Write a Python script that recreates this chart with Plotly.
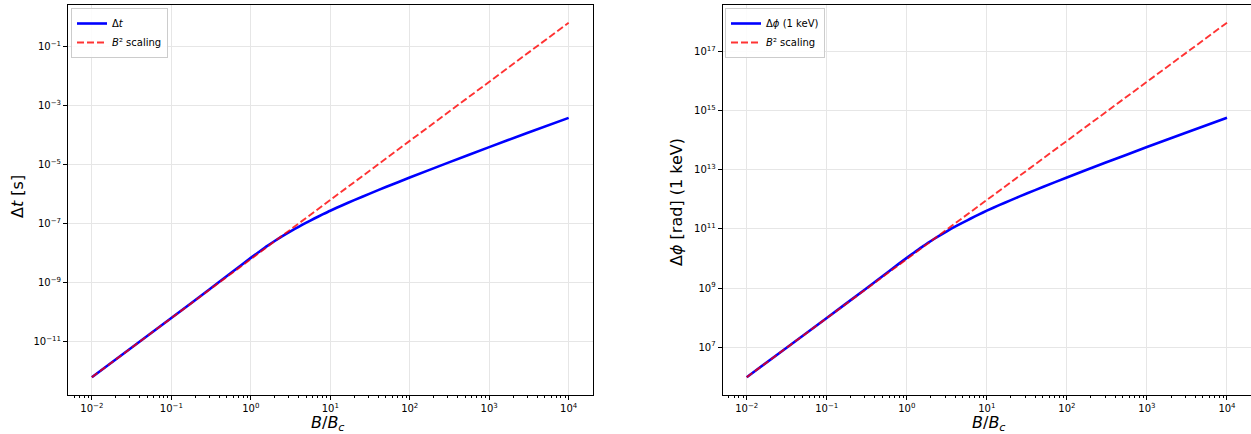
import plotly.graph_objects as go

# Field strength in units of the critical field
B_ratio = [0.01, 0.03, 0.1, 0.3, 0.6, 1, 1.25, 1.6, 2, 2.5, 3.2, 4, 5, 6.3, 8,
           10, 14, 20, 32, 50, 100, 300, 1000, 3000, 10000]

# Time delay [s]
delta_t = [6.31e-13, 5.68e-12, 6.38e-11, 5.89e-10, 2.45e-9, 6.92e-9, 1.07e-8,
           1.73e-8, 2.58e-8, 3.78e-8, 5.60e-8, 7.82e-8, 1.08e-7, 1.49e-7, 2.05e-7,
           2.74e-7, 4.12e-7, 6.25e-7, 1.06e-6, 1.73e-6, 3.63e-6, 1.14e-5, 3.89e-5,
           1.17e-4, 3.80e-4]

# Phase shift at 1 keV [rad]
delta_phi = [9.58e5, 8.63e6, 9.69e7, 8.95e8, 3.72e9, 1.05e10, 1.63e10, 2.63e10,
             3.92e10, 5.74e10, 8.51e10, 1.19e11, 1.64e11, 2.26e11, 3.11e11,
             4.16e11, 6.26e11, 9.49e11, 1.61e12, 2.63e12, 5.51e12, 1.73e13,
             5.91e13, 1.78e14, 5.77e14]

# Pure B^2 reference lines
B_ref = [0.01, 0.1, 1, 10, 100, 1000, 10000]
dt_B2 = [6.31e-13, 6.31e-11, 6.31e-9, 6.31e-7, 6.31e-5, 6.31e-3, 6.31e-1]
dphi_B2 = [9.58e5, 9.58e7, 9.58e9, 9.58e11, 9.58e13, 9.58e15, 9.58e17]

# Tick labels
x_exps = [-2, -1, 0, 1, 2, 3, 4]
y1_exps = [-11, -9, -7, -5, -3, -1]
y2_exps = [7, 9, 11, 13, 15, 17]


def sup(e):
    return "10<sup>" + str(e).replace("-", "\u2212") + "</sup>"


W, H = 1251, 434
FONT = "DejaVu Sans"
BLUE = "#0000ff"
RED = "rgba(255,0,0,0.8)"
GRID = "#e6e6e6"

minor_x = [m * 10.0 ** d for d in range(-3, 5) for m in range(2, 10)]

fig = go.Figure()

blue_line = dict(color=BLUE, width=2.6, shape="spline", smoothing=0.5)
red_line = dict(color=RED, width=1.9, dash="7px,3px")

fig.add_trace(go.Scatter(x=B_ratio, y=delta_t, mode="lines", name="\u0394<i>t</i>",
                         line=blue_line, xaxis="x", yaxis="y", legend="legend"))
fig.add_trace(go.Scatter(x=B_ref, y=dt_B2, mode="lines", name="<i>B</i>\u00b2 scaling",
                         line=red_line, xaxis="x", yaxis="y", legend="legend"))
fig.add_trace(go.Scatter(x=B_ratio, y=delta_phi, mode="lines", name="\u0394<i>\u03d5</i> (1 keV)",
                         line=blue_line, xaxis="x2", yaxis="y2", legend="legend2"))
fig.add_trace(go.Scatter(x=B_ref, y=dphi_B2, mode="lines", name="<i>B</i>\u00b2 scaling",
                         line=red_line, xaxis="x2", yaxis="y2", legend="legend2"))

ydom = [39 / H, 429 / H]
xdom1 = [68 / W, 592.5 / W]
xdom2 = [722.7 / W, 1.0]

common_axis = dict(
    type="log", showline=True, mirror=True, linecolor="black", linewidth=1,
    ticks="outside", ticklen=4, tickwidth=1, tickcolor="black",
    showgrid=True, gridcolor=GRID, gridwidth=0.8, zeroline=False,
    tickfont=dict(family=FONT, size=10, color="black"),
)

xaxis_common = dict(
    common_axis,
    range=[-2.3, 4.3],
    tickvals=[10.0 ** e for e in x_exps],
    ticktext=[sup(e) for e in x_exps],
    minor=dict(tickvals=minor_x, ticks="outside", ticklen=2, tickcolor="black", showgrid=False),
)

legend_style = dict(
    xanchor="left", yanchor="top",
    bgcolor="rgba(255,255,255,0.85)", bordercolor="#cccccc", borderwidth=1,
    font=dict(family=FONT, size=10), itemwidth=30, tracegroupgap=0,
)

fig.update_layout(
    width=W, height=H,
    margin=dict(l=0, r=0, t=0, b=0),
    paper_bgcolor="white", plot_bgcolor="white",
    font=dict(family=FONT, color="black"),
    xaxis=dict(xaxis_common, domain=xdom1, anchor="y"),
    yaxis=dict(common_axis, domain=ydom, anchor="x", range=[-12.8, 0.4],
               tickvals=[10.0 ** e for e in y1_exps], ticktext=[sup(e) for e in y1_exps]),
    xaxis2=dict(xaxis_common, domain=xdom2, anchor="y2"),
    yaxis2=dict(common_axis, domain=ydom, anchor="x2", range=[5.38, 18.58],
                tickvals=[10.0 ** e for e in y2_exps], ticktext=[sup(e) for e in y2_exps]),
    legend=dict(legend_style, x=71 / W, y=1 - 8 / H),
    legend2=dict(legend_style, x=725 / W, y=1 - 8 / H),
    showlegend=True,
)

title_font = dict(family=FONT, size=16, color="black")
annotations = [
    dict(text="<i>B</i>/<i>B</i><sub><i>c</i></sub>", x=328 / W, y=1 - 423 / H),
    dict(text="<i>B</i>/<i>B</i><sub><i>c</i></sub>", x=989 / W, y=1 - 423 / H),
    dict(text="\u0394<i>t</i> [s]", x=17 / W, y=1 - 197 / H, textangle=-90),
    dict(text="\u0394<i>\u03d5</i> [rad] (1 keV)", x=676 / W, y=1 - 202 / H, textangle=-90),
]
for a in annotations:
    fig.add_annotation(xref="paper", yref="paper", showarrow=False,
                       xanchor="center", yanchor="middle", font=title_font, **a)

fig.write_html("out.html")
